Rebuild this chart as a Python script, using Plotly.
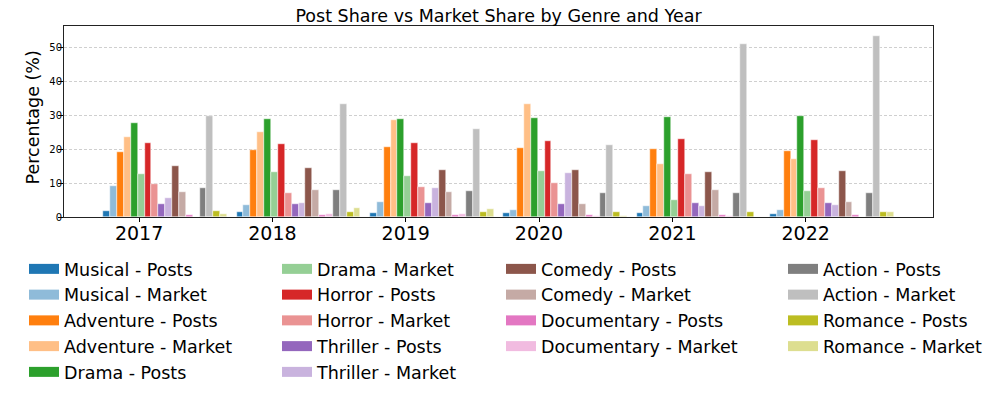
import plotly.graph_objects as go

# Data (percent)
years = [2017, 2018, 2019, 2020, 2021, 2022]
genres = ["Musical", "Adventure", "Drama", "Horror", "Thriller",
          "Comedy", "Documentary", "Action", "Romance"]

musical_posts = [1.7, 1.5, 1.2, 1.1, 1.2, 0.9]
musical_market = [9.1, 3.5, 4.4, 2.0, 3.3, 2.0]
adventure_posts = [19.2, 19.8, 20.6, 20.2, 20.0, 19.4]
adventure_market = [23.7, 25.0, 28.5, 33.4, 15.6, 17.1]
drama_posts = [27.7, 28.8, 28.9, 29.3, 29.4, 29.7]
drama_market = [12.6, 13.4, 12.1, 13.5, 5.1, 7.8]
horror_posts = [21.8, 21.4, 21.8, 22.5, 23.1, 22.8]
horror_market = [9.8, 7.1, 8.7, 9.9, 12.8, 8.5]
thriller_posts = [3.9, 3.9, 4.0, 3.9, 4.0, 4.0]
thriller_market = [5.6, 4.1, 8.5, 13.0, 3.1, 3.4]
comedy_posts = [15.0, 14.5, 13.9, 13.8, 13.4, 13.7]
comedy_market = [7.3, 7.9, 7.5, 3.8, 8.0, 4.3]
documentary_posts = [0.6, 0.6, 0.6, 0.6, 0.6, 0.6]
documentary_market = [0.1, 0.9, 0.8, 0.2, 0.2, 0.1]
action_posts = [8.6, 8.1, 7.7, 7.2, 7.0, 7.2]
action_market = [29.9, 33.3, 25.9, 21.3, 50.9, 53.4]
romance_posts = [1.7, 1.6, 1.4, 1.6, 1.5, 1.4]
romance_market = [0.9, 2.6, 2.4, 0.3, 0.1, 1.4]

series = [
    musical_posts, musical_market, adventure_posts, adventure_market,
    drama_posts, drama_market, horror_posts, horror_market,
    thriller_posts, thriller_market, comedy_posts, comedy_market,
    documentary_posts, documentary_market, action_posts, action_market,
    romance_posts, romance_market,
]

# tab10 colour per genre; market bars are the same colour at half strength
genre_colors = ["#1f77b4", "#ff7f0e", "#2ca02c", "#d62728", "#9467bd",
                "#8c564b", "#e377c2", "#7f7f7f", "#bcbd22"]


def half(hex_color):
    r, g, b = (int(hex_color[k:k + 2], 16) for k in (1, 3, 5))
    r, g, b = ((c + 255) // 2 for c in (r, g, b))
    return f"rgb({r},{g},{b})"


width = 0.0516
offset = 4.7
font = "DejaVu Sans"

# page body has an 8px margin, so the figure is drawn 8px smaller
W, H = 989, 388

# legend columns: which legend each series goes to, and column x position (px)
legend_of = ["legend"] * 5 + ["legend2"] * 5 + ["legend3"] * 4 + ["legend4"] * 4
col_x = {"legend": 16, "legend2": 269, "legend3": 493, "legend4": 775}

fig = go.Figure()

for i, vals in enumerate(series):
    genre = genres[i // 2]
    if i % 2 == 0:
        kind, color = "Posts", genre_colors[i // 2]
    else:
        kind, color = "Market", half(genre_colors[i // 2])
    name = f"{genre} - {kind}"
    xs = [y + (i - offset) * width for y in years]
    fig.add_trace(go.Bar(
        x=xs, y=vals, width=width, name=name, legendgroup=name,
        marker=dict(color=color, line=dict(color="white", width=0.5)),
        showlegend=False,
    ))
    # legend entry drawn as a wide swatch
    fig.add_trace(go.Scatter(
        x=[years[0]], y=[None], mode="lines", name=name, legendgroup=name,
        line=dict(color=color, width=12), legend=legend_of[i],
        hoverinfo="skip",
    ))

legend_common = dict(
    xref="container", yref="container", xanchor="left", yanchor="top",
    y=1 - 243 / H, font=dict(family=font, size=17.5, color="black"),
    bgcolor="rgba(0,0,0,0)", orientation="v", tracegroupgap=0,
)

fig.update_layout(
    width=W, height=H,
    margin=dict(l=56, r=64, t=18, b=179, autoexpand=False),
    paper_bgcolor="white", plot_bgcolor="white",
    barmode="overlay", bargap=0,
    font=dict(family=font, color="black"),
    title=dict(text="Post Share vs Market Share by Genre and Year",
               x=(56 + 925) / 2 / W, xanchor="center", y=1 - 8 / H,
               yanchor="middle",
               font=dict(family=font, size=17.5, color="black")),
    xaxis=dict(range=[2016.437, 2022.955], tickvals=years,
               ticktext=[str(y) for y in years],
               tickfont=dict(size=19), ticklabelstandoff=-5,
               showgrid=False, zeroline=False,
               ticks="outside", ticklen=4, tickcolor="black",
               showline=True, linecolor="#222", linewidth=1, mirror=True),
    yaxis=dict(range=[0, 56.3], tickvals=[0, 10, 20, 30, 40, 50],
               tickfont=dict(size=10), ticklabelstandoff=-6,
               showgrid=True, gridcolor="#cfcfcf", gridwidth=0.8,
               griddash="3px,2px", zeroline=False,
               ticks="outside", ticklen=5, tickcolor="black",
               showline=True, linecolor="#222", linewidth=1, mirror=True),
    annotations=[dict(text="Percentage (%)", textangle=-90,
                      xref="paper", yref="paper", x=0, y=0.5,
                      xanchor="center", yanchor="middle", xshift=-32,
                      yshift=4, showarrow=False,
                      font=dict(family=font, size=17.5, color="black"))],
    legend=dict(legend_common, x=col_x["legend"] / W),
    legend2=dict(legend_common, x=col_x["legend2"] / W),
    legend3=dict(legend_common, x=col_x["legend3"] / W),
    legend4=dict(legend_common, x=col_x["legend4"] / W),
)

fig.write_html("out.html")
